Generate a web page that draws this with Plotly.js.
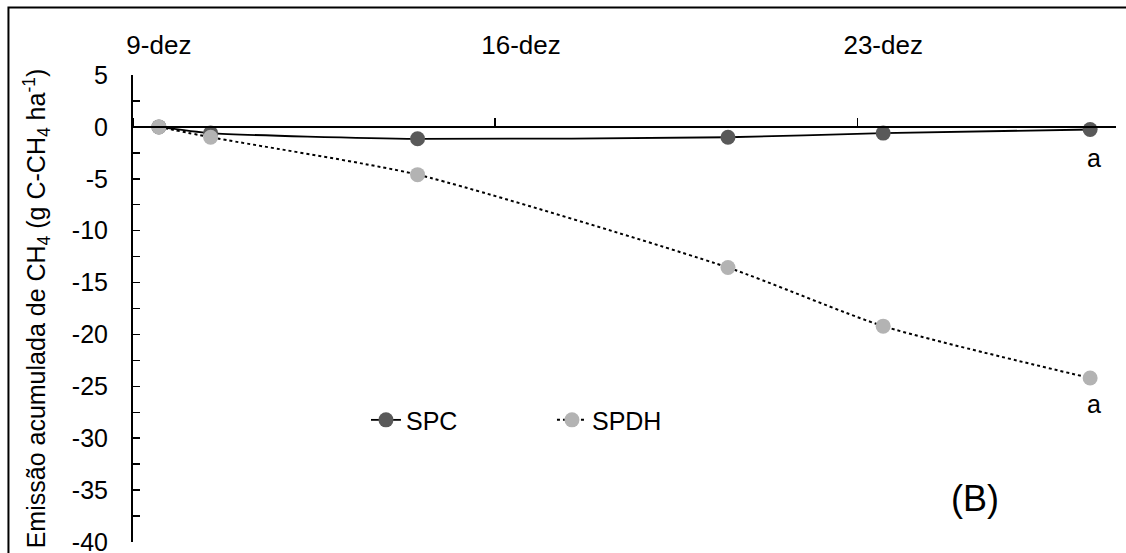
<!DOCTYPE html>
<html>
<head>
<meta charset="utf-8">
<script src="https://cdn.plot.ly/plotly-3.0.1.min.js"></script>
<style>html,body{margin:0;padding:0;background:#fff;}#chart{width:1126px;height:553px;}</style>
</head>
<body>
<div id="chart"></div>
<script>
// Day of December for each sampling
var days = [9.5, 10.5, 14.5, 20.5, 23.5, 27.5];
var spc = [0, -0.6, -1.15, -1.0, -0.6, -0.25];
var spdh = [0, -1.0, -4.6, -13.55, -19.2, -24.2];
var tickDays = [9, 16, 23];
var labelDays = [9.5, 16.5, 23.5];
var tickLabels = ['9-dez', '16-dez', '23-dez'];
var yTicks = [5, 0, -5, -10, -15, -20, -25, -30, -35, -40];
var yTickLabels = ['5', '0', '-5', '-10', '-15', '-20', '-25', '-30', '-35', '-40'];
var seriesNames = ['SPC', 'SPDH'];
var letters = ['a', 'a'];
var panelLabel = '(B)';

var FONT = 'Liberation Sans, Arial, sans-serif';
var FS = 25;

var traces = [
  {x: days, y: spc, name: seriesNames[0], mode: 'lines+markers', type: 'scatter',
   line: {color: '#000', width: 1.8, shape: 'spline', smoothing: 0.6},
   marker: {color: '#595959', size: 15}},
  {x: days, y: spdh, name: seriesNames[1], mode: 'lines+markers', type: 'scatter',
   line: {color: '#000', width: 2, dash: 'dot', shape: 'spline', smoothing: 0.6},
   marker: {color: '#b3b3b3', size: 15}},
  {x: days, y: spc, xaxis: 'x2', mode: 'markers', opacity: 0, showlegend: false, hoverinfo: 'skip'}
];

var layout = {
  width: 1126, height: 553,
  margin: {l: 133, r: 10, t: 75, b: 11},
  paper_bgcolor: '#fff', plot_bgcolor: 'rgba(0,0,0,0)',
  font: {family: FONT, size: FS, color: '#000'},
  showlegend: true,
  legend: {orientation: 'h', x: 0.237, y: 0.261, xanchor: 'left', yanchor: 'middle',
           font: {family: FONT, size: FS, color: '#000'}, bgcolor: 'rgba(0,0,0,0)',
           entrywidth: 141, entrywidthmode: 'pixels', tracegroupgap: 0},
  xaxis: {range: [9, 28], side: 'top', showline: false, showgrid: false, zeroline: false,
          ticks: '', tickvals: labelDays, ticktext: tickLabels, ticklabelstandoff: 15,
          tickfont: {family: FONT, size: 26, color: '#000'}},
  xaxis2: {range: [9, 28], overlaying: 'x', anchor: 'free', position: 40/45, side: 'top',
           showline: true, linecolor: '#000', linewidth: 2, showgrid: false, zeroline: false,
           ticks: 'outside', ticklen: 8, tickwidth: 1.5, tickcolor: '#000',
           tickvals: tickDays, showticklabels: false},
  yaxis: {range: [-40, 5], tickmode: 'array', tickvals: yTicks, ticktext: yTickLabels,
          showline: true, linecolor: '#000', linewidth: 2,
          showgrid: false, zeroline: false, ticks: 'inside', ticklen: 7, tickwidth: 1.5, tickcolor: '#000',
          minor: {dtick: 2.5, tick0: 0, ticks: 'inside', ticklen: 7, tickwidth: 1.5, tickcolor: '#000', showgrid: false},
          ticklabelstandoff: 18, ticklabeloverflow: 'allow',
          tickfont: {family: FONT, size: FS, color: '#000'},
          title: {text: 'Emissão acumulada de CH<sub>4</sub> (g C-CH<sub>4</sub> ha<sup>-1</sup>)',
                  font: {family: FONT, size: FS, color: '#000'}, standoff: 19}},
  annotations: [
    {x: days[5], y: spc[5], xref: 'x', yref: 'y', text: letters[0], showarrow: false,
     yshift: -29, xshift: 4, font: {family: FONT, size: FS, color: '#000'}},
    {x: days[5], y: spdh[5], xref: 'x', yref: 'y', text: letters[1], showarrow: false,
     yshift: -26, xshift: 4, font: {family: FONT, size: FS, color: '#000'}},
    {x: 0.8566, y: 0.094, xref: 'paper', yref: 'paper', xanchor: 'center', yanchor: 'middle',
     text: panelLabel, showarrow: false,
     font: {family: FONT, size: 36, color: '#000'}}
  ],
  shapes: [
    {type: 'rect', xref: 'paper', yref: 'paper', x0: -0.1267, x1: 1.05, y0: -0.1, y1: 1.1445,
     line: {color: '#000', width: 2}, fillcolor: 'rgba(0,0,0,0)', layer: 'below'}
  ]
};

Plotly.newPlot('chart', traces, layout, {displayModeBar: false, staticPlot: true});
</script>
</body>
</html>
